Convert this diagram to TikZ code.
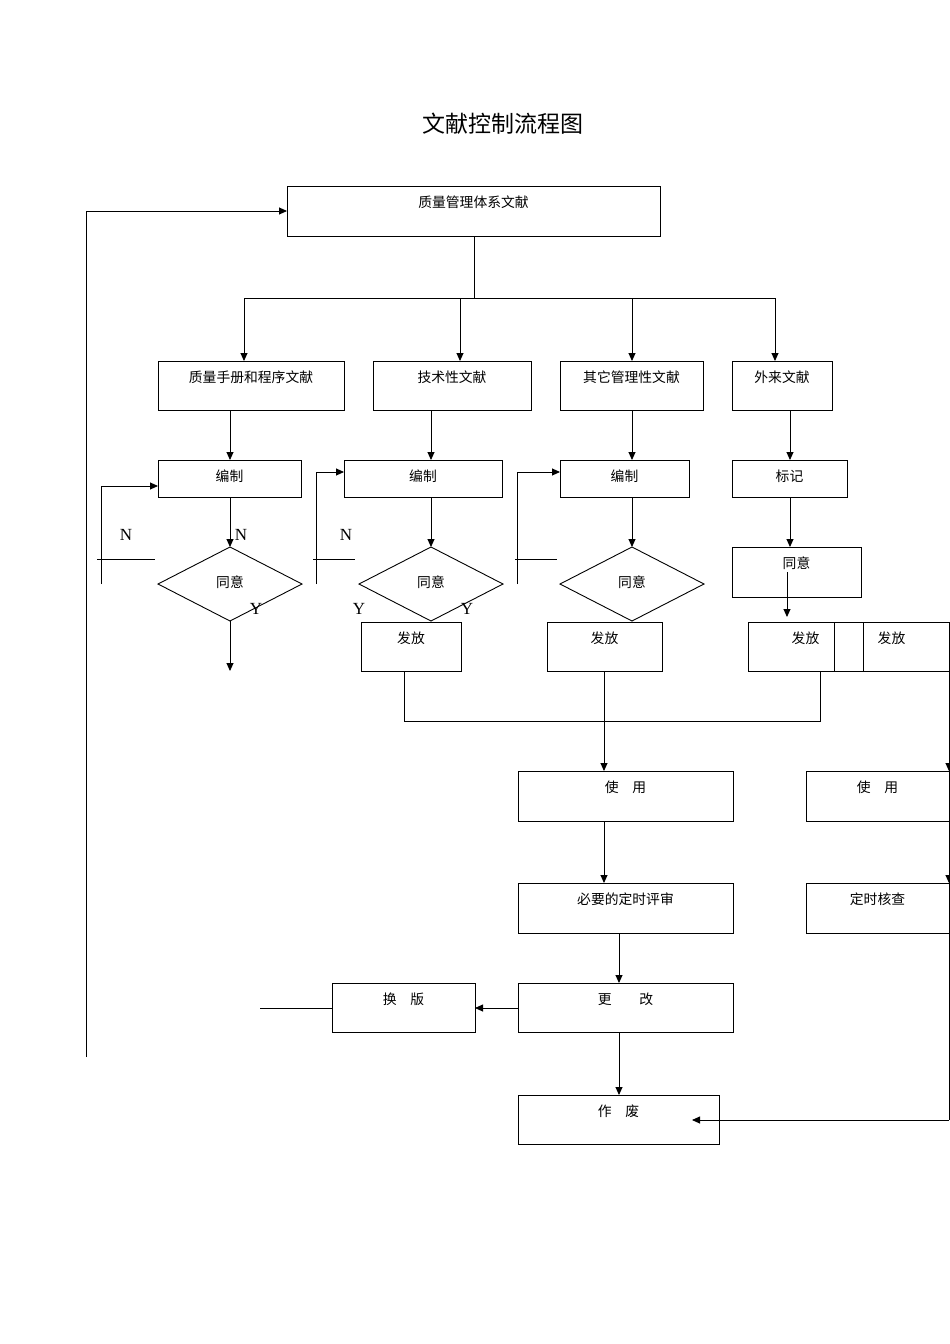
\documentclass[tikz,border=0pt]{standalone}
\usepackage{fontspec}
\setmainfont{Liberation Serif}
\newfontfamily\cjk{Noto Sans CJK SC}[Scale=0.92]
\usetikzlibrary{arrows.meta}
\newcommand\bx[6]{\node[box,minimum width={#4-#2},minimum height={#5-#3}] (#1) at ({(#2+#4)/2},{(#3+#5)/2}) {};
\node[txt] (#1t) at ({(#2+#4)/2},{#3+16}) {#6};}
\begin{document}
\begin{tikzpicture}[x=1pt,y=-1pt,
 box/.style={draw,line width=0.9pt,inner sep=0pt,outer sep=0pt},
 txt/.style={font=\cjk\fontsize{15}{15}\selectfont,inner sep=0pt},
 lt/.style={font=\fontsize{17}{17}\selectfont,inner sep=0pt},
 ar/.style={-{Triangle[length=8pt,width=7pt]},line width=0.9pt},
 ln/.style={line width=0.9pt}]
\useasboundingbox[fill=white] (0,0) rectangle (950,1344);
\node[font=\cjk\fontsize{25}{25}\selectfont] (title) at (503,124) {文献控制流程图};
\bx{top}{287}{186}{660}{236}{质量管理体系文献}
\bx{a1}{158}{361}{344}{410}{质量手册和程序文献}
\bx{a2}{373}{361}{531}{410}{技术性文献}
\bx{a3}{560}{361}{703}{410}{其它管理性文献}
\bx{a4}{732}{361}{832}{410}{外来文献}
\coordinate (s) at (474,298);
\draw[ln] (top.south -| s) -- (s) (244,298) -- (775,298);
\draw[ar] (244,298) -- (a1.north -| 244,0);
\draw[ar] (460,298) -- (a2.north -| 460,0);
\draw[ar] (632,298) -- (a3.north -| 632,0);
\draw[ar] (775,298) -- (a4.north -| 775,0);
\bx{b1}{158}{460}{301}{497}{编制}
\bx{b2}{344}{460}{502}{497}{编制}
\bx{b3}{560}{460}{689}{497}{编制}
\bx{b4}{732}{460}{847}{497}{标记}
\draw[ar] (a1.south -| 230,0) -- (b1.north -| 230,0);
\draw[ar] (a2.south -| 431,0) -- (b2.north -| 431,0);
\draw[ar] (a3.south -| 632,0) -- (b3.north -| 632,0);
\draw[ar] (a4.south -| 790,0) -- (b4.north -| 790,0);
\foreach \n/\c in {d1/230,d2/431,d3/632}{
 \draw[ln] (\c-72,584) coordinate(\n w) -- (\c,547) coordinate(\n n) -- (\c+72,584) coordinate(\n e) -- (\c,621) coordinate(\n s) -- cycle;
 \node[txt] (\n t) at (\c,582) {同意};}
\draw[ar] (b1.south -| 230,0) -- (d1n);
\draw[ar] (b2.south -| 431,0) -- (d2n);
\draw[ar] (b3.south -| 632,0) -- (d3n);
\bx{c4}{732}{547}{861}{597}{同意}
\draw[ar] (b4.south -| 790,0) -- (c4.north -| 790,0);
% feedback loops
\draw[ar] (101,584) -- (101,486) -- (b1.west |- 0,486);
\draw[ln] (97,559) -- (155,559);
\draw[ar] (316,584) -- (316,472) -- (b2.west |- 0,472);
\draw[ln] (313,559) -- (355,559);
\draw[ar] (517,584) -- (517,472) -- (b3.west |- 0,472);
\draw[ln] (515,559) -- (557,559);
\node[lt] (n1) at (126,535) {N};
\node[lt] (n2) at (241,535) {N};
\node[lt] (n3) at (346,535) {N};
\node[lt] (y1) at (256,609) {Y};
\node[lt] (y2) at (359,609) {Y};
\node[lt] (y3) at (467,609) {Y};
\coordinate (e1) at (230,671);
\draw[ar] (d1s) -- (e1);
\bx{f2}{361}{622}{461}{671}{发放}
\bx{f3}{547}{622}{662}{671}{发放}
\bx{f4}{748}{622}{863}{671}{发放}
\bx{f5}{834}{622}{949}{671}{发放}
\draw[ar] (787,572) -- (787,617);
\draw[ln] (f2.south -| 404,0) -- (404,721) -- (820,721) -- (f4.south -| 820,0);
\bx{u1}{518}{771}{733}{821}{使　用}
\bx{u2}{806}{771}{949}{821}{使　用}
\draw[ar] (f3.south -| 604,0) -- (u1.north -| 604,0);
\bx{r1}{518}{883}{733}{933}{必要的定时评审}
\bx{r2}{806}{883}{949}{933}{定时核查}
\draw[ar] (u1.south -| 604,0) -- (r1.north -| 604,0);
\bx{g}{518}{983}{733}{1032}{更　　改}
\bx{h}{332}{983}{475}{1032}{换　版}
\bx{z}{518}{1095}{719}{1144}{作　废}
\draw[ar] (r1.south -| 619,0) -- (g.north -| 619,0);
\draw[ar] (g.west |- 0,1008) -- (h.east |- 0,1008);
\draw[ln] (260,1008) -- (h.west |- 0,1008);
\draw[ar] (g.south -| 619,0) -- (z.north -| 619,0);
\draw[ln] (f5.south east) -- (949,1120);
\draw[ar] (949,1120) -- (692,1120);
\draw[ar] (949,700) -- (u2.north east);
\draw[ar] (949,850) -- (r2.north east);
\draw[ar] (86,1057) -- (86,211) -- (top.west |- 0,211);
\end{tikzpicture}
\end{document}
